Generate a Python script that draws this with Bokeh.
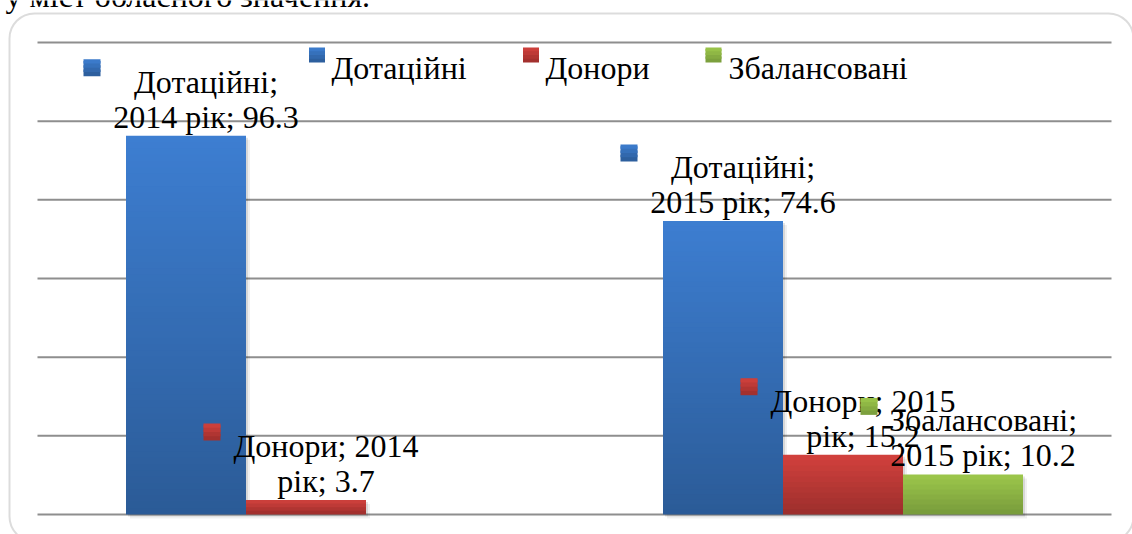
import textwrap
from bokeh.plotting import figure
from bokeh.models import BoxAnnotation, Range1d
from bokeh.core.properties import value
from bokeh.embed import file_html
from bokeh.resources import INLINE

# ---------------- data ----------------
years = ["2014", "2015"]
series = ["Дотаційні", "Донори", "Збалансовані"]
dotatsiini = [96.3, 74.6]
donory = [3.7, 15.2]
zbalansovani = [None, 10.2]
grid_values = [0, 20, 40, 60, 80, 100, 120]
title_fragment = "у міст обласного значення."

values_by_series = [dotatsiini, donory, zbalansovani]

# ---------------- styles / geometry ----------------
W, H = 1132, 534
X0_PX = 37          # canvas px of category axis start
CAT_PX = 537        # px per category
Y0_PX = 514         # canvas px of value 0
PPU = 472 / 120     # px per value unit
BAR_PX = 120
FONT = "'Liberation Serif', 'Times New Roman', serif"
FS = "32px"
top_colors = ["#3d7ed1", "#d2413d", "#9dc84b"]
bot_colors = ["#2b5b97", "#9c2e2c", "#779a3b"]


def dx(px):
    return px / CAT_PX


def dy(px):
    return px / PPU


def cx(canvas_x):
    return (canvas_x - X0_PX) / CAT_PX


def cy(canvas_y):
    return (Y0_PX - canvas_y) / PPU


def hex2rgb(h):
    h = h.lstrip("#")
    return tuple(int(h[i:i + 2], 16) for i in (0, 2, 4))


def lerp(c1, c2, t):
    a, b = hex2rgb(c1), hex2rgb(c2)
    return "#%02x%02x%02x" % tuple(round(a[i] + (b[i] - a[i]) * t) for i in range(3))


p = figure(width=W, height=H, output_backend="svg", toolbar_location=None,
           x_range=Range1d(cx(0), cx(W)), y_range=Range1d(cy(H), cy(0)),
           min_border=0, min_border_left=0, min_border_right=0,
           min_border_top=0, min_border_bottom=0)
p.axis.visible = False
p.grid.visible = False
p.outline_line_color = None
p.background_fill_color = "white"
p.border_fill_color = "white"


def gradient_quad(left, right, bottom, top, ctop, cbot):
    h = top - bottom
    n = max(4, min(60, int(h * PPU / 5)))
    L, R, B, T, C = [], [], [], [], []
    for k in range(n):
        b = bottom + h * k / n
        t = bottom + h * min(k + 1.6, n) / n
        L.append(left); R.append(right); B.append(b); T.append(t)
        C.append(lerp(cbot, ctop, (k + 0.5) / n))
    p.quad(left=L, right=R, bottom=B, top=T, fill_color=C, line_color=None)


# gridlines
p.segment(x0=[0] * len(grid_values), x1=[len(years)] * len(grid_values),
          y0=grid_values, y1=grid_values, line_color="#8e8e8e", line_width=2)

offsets = [-1, 0, 1]
bw = dx(BAR_PX)

# shadows
for si, vals in enumerate(values_by_series):
    for ci, v in enumerate(vals):
        if v is None:
            continue
        xc = ci + 0.5 + offsets[si] * bw
        for off, a in ((2, 0.10), (4, 0.06)):
            p.quad(left=[xc - bw / 2 + dx(off)], right=[xc + bw / 2 + dx(off)],
                   bottom=[-dy(off)], top=[v - dy(off)], fill_color="black",
                   fill_alpha=a, line_color=None)

# bars
for si, vals in enumerate(values_by_series):
    for ci, v in enumerate(vals):
        if v is None:
            continue
        xc = ci + 0.5 + offsets[si] * bw
        gradient_quad(xc - bw / 2, xc + bw / 2, 0, v, top_colors[si], bot_colors[si])

# data labels
for si, vals in enumerate(values_by_series):
    for ci, v in enumerate(vals):
        if v is None:
            continue
        xc = ci + 0.5 + offsets[si] * bw
        full = f"{series[si]}; {years[ci]} рік; {v}"
        lines = textwrap.wrap(full, width=14)
        sx = xc + dx(-94)
        sy = v + dy(68)
        gradient_quad(sx - dx(8.5), sx + dx(8.5), sy - dy(8.5), sy + dy(8.5),
                      top_colors[si], bot_colors[si])
        for li, line in enumerate(lines):
            p.text(x=[xc + dx(20)], y=[v + dy(54 - 35 * li)], text=[line],
                   text_font=value(FONT), text_font_size=FS, text_color="black",
                   text_align="center", text_baseline="alphabetic")

# legend
leg_sq_left = [308.5, 522.5, 705]
leg_txt_left = [331, 545, 728]
for si, name in enumerate(series):
    gradient_quad(cx(leg_sq_left[si]), cx(leg_sq_left[si] + 16), cy(62), cy(47),
                  top_colors[si], bot_colors[si])
    p.text(x=[cx(leg_txt_left[si])], y=[cy(67)], text=[name],
           text_font=value(FONT), text_font_size=FS, text_color="black",
           text_align="left", text_baseline="alphabetic")

# cut-off text from the page above
p.text(x=[cx(5)], y=[cy(-5)], text=[title_fragment],
       text_font=value(FONT), text_font_size=FS, text_color="black",
       text_align="left", text_baseline="alphabetic")

# rounded frame around the chart
p.add_layout(BoxAnnotation(left=cx(9), right=cx(1133), top=cy(13), bottom=cy(541),
                           border_radius=25, fill_alpha=0, line_color="#8a8a8a",
                           line_width=2))

open("out.html", "w").write(file_html(p, INLINE))
